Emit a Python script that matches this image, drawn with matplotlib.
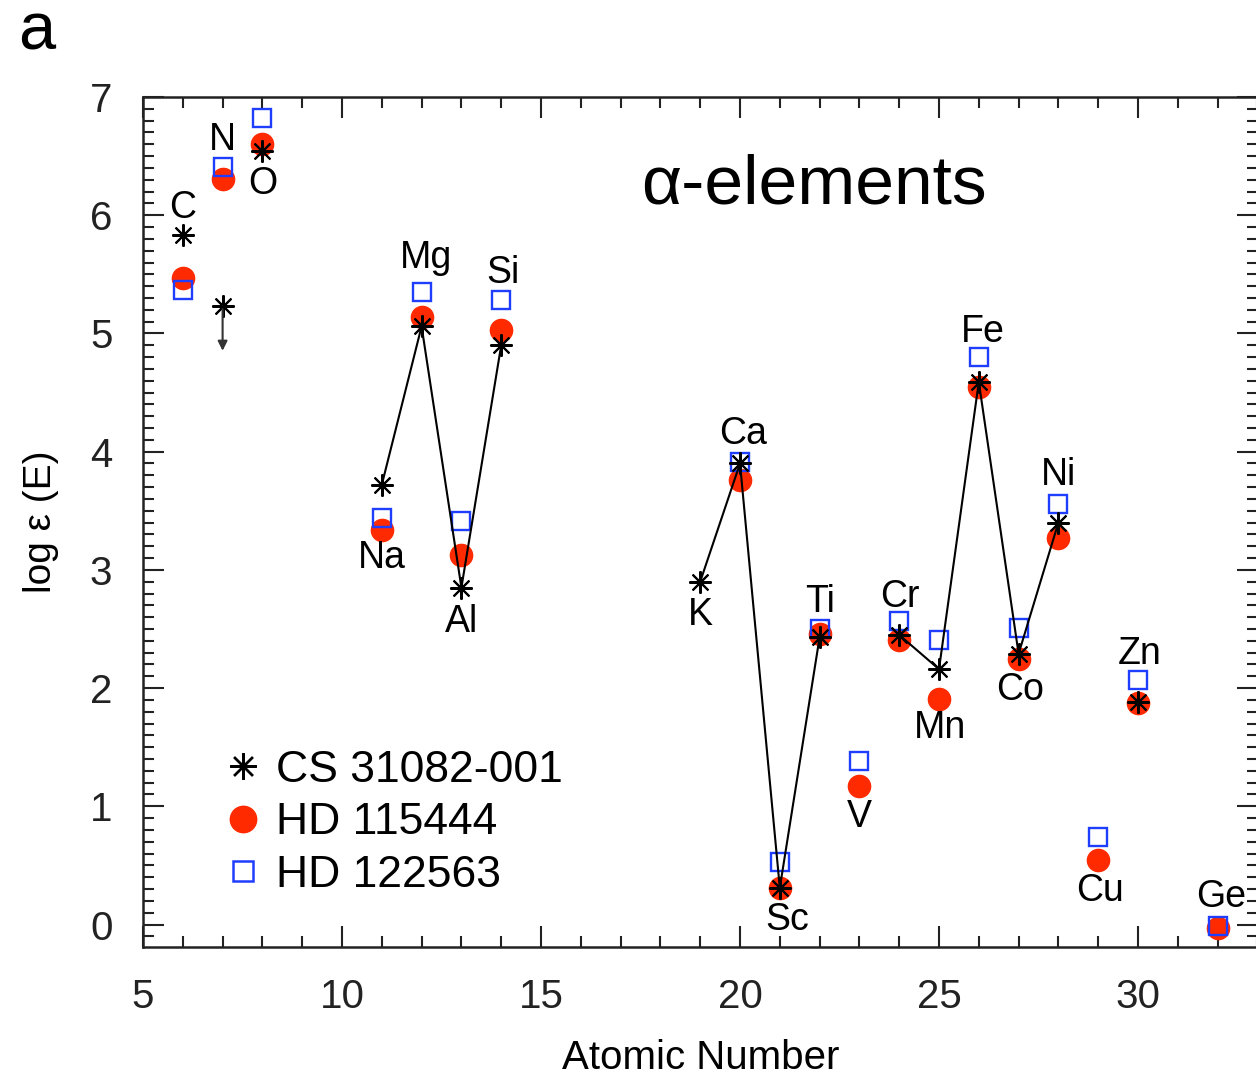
import matplotlib
matplotlib.use('Agg')
import matplotlib.pyplot as plt
from matplotlib.ticker import MultipleLocator
from matplotlib.lines import Line2D

plt.rcParams['font.family'] = ['Liberation Sans', 'DejaVu Sans']

# Atomic numbers and abundances (log eps)
# CS 31082-001 (asterisks); connected groups
cs_groups = [
    ([11, 12, 13, 14], [3.72, 5.06, 2.85, 4.90]),
    ([19, 20, 21, 22], [2.90, 3.90, 0.31, 2.43]),
    ([24, 25, 26, 27, 28], [2.45, 2.16, 4.59, 2.29, 3.40]),
]
cs_single_z = [6, 8, 30]
cs_single_v = [5.83, 6.54, 1.88]
cs_limit_z = 7          # upper limit for N
cs_limit_v = 5.23

hd115444_z = [6, 7, 8, 11, 12, 13, 14, 20, 21, 22, 23, 24, 25, 26, 27, 28, 29, 30, 32]
hd115444_v = [5.47, 6.31, 6.60, 3.34, 5.14, 3.13, 5.03, 3.76, 0.31, 2.46, 1.17,
              2.41, 1.91, 4.55, 2.25, 3.27, 0.55, 1.87, -0.03]

hd122563_z = [6, 7, 8, 11, 12, 13, 14, 20, 21, 22, 23, 24, 25, 26, 27, 28, 29, 30, 32]
hd122563_v = [5.37, 6.41, 6.82, 3.44, 5.35, 3.41, 5.28, 3.91, 0.53, 2.50, 1.38,
              2.57, 2.41, 4.80, 2.51, 3.56, 0.74, 2.07, -0.01]

# element labels: symbol, Z
elements = ['C', 'N', 'O', 'Na', 'Mg', 'Al', 'Si', 'K', 'Ca', 'Sc', 'Ti', 'V',
            'Cr', 'Mn', 'Fe', 'Co', 'Ni', 'Cu', 'Zn', 'Ge']
element_z = [6, 7, 8, 11, 12, 13, 14, 19, 20, 21, 22, 23, 24, 25, 26, 27, 28, 29, 30, 32]
# label placement (x shift, y) in data units
label_pos = {
    'C': (0.0, 6.06), 'N': (0.0, 6.64), 'O': (0.0, 6.26), 'Na': (0.0, 3.10),
    'Mg': (0.1, 5.64), 'Al': (0.0, 2.56), 'Si': (0.05, 5.51), 'K': (0.0, 2.62),
    'Ca': (0.08, 4.15), 'Sc': (0.18, 0.04), 'Ti': (0.0, 2.73), 'V': (0.0, 0.91),
    'Cr': (0.02, 2.77), 'Mn': (0.02, 1.66), 'Fe': (0.1, 5.01), 'Co': (0.04, 1.98),
    'Ni': (0.0, 3.80), 'Cu': (0.05, 0.28), 'Zn': (0.05, 2.29), 'Ge': (0.1, 0.23),
}

red = '#ff2a00'
blue = '#1f3dff'

fig = plt.figure(figsize=(12.56, 10.78), dpi=100)
ax = fig.add_axes([143 / 1256, 131 / 1078, 1115 / 1256, 850 / 1078])

ax.plot(hd115444_z, hd115444_v, 'o', ms=16, color=red, mec=red, ls='none', zorder=3)
ax.plot(hd122563_z, hd122563_v, 's', ms=12.5, mfc='none', mec=blue, mew=1.7, ls='none', zorder=4)

star = (8, 2, 0)
for zz, vv in cs_groups:
    ax.plot(zz, vv, '-', color='black', lw=1.5, marker=star, ms=16, mew=1.5, zorder=5)
ax.plot(cs_single_z, cs_single_v, ls='none', marker=star, ms=16, mew=1.5, color='black', zorder=5)
ax.plot([cs_limit_z], [cs_limit_v], ls='none', marker=star, ms=16, mew=1.5, color='black', zorder=5)
ax.annotate('', xy=(cs_limit_z, cs_limit_v - 0.40), xytext=(cs_limit_z, cs_limit_v),
            arrowprops=dict(arrowstyle='-|>', color='#333333', lw=1.5, mutation_scale=14),
            zorder=5)

for el, z in zip(elements, element_z):
    dx, y = label_pos[el]
    ax.text(z + dx, y, el, fontsize=27, ha='center', va='center', zorder=6)

ax.text(21.86, 6.1, 'α-elements', fontsize=50, ha='center', va='baseline')

ax.set_xlim(5, 5 + 1115 / 39.8)
ax.set_ylim(-0.19, 7.0)
ax.xaxis.set_major_locator(MultipleLocator(5))
ax.xaxis.set_minor_locator(MultipleLocator(1))
ax.yaxis.set_major_locator(MultipleLocator(1))
ax.yaxis.set_minor_locator(MultipleLocator(0.1))
ax.tick_params(which='both', direction='in', top=True, right=True, width=1.5,
               labelsize=29, colors='#222222')
ax.tick_params(which='major', length=15, pad=22)
ax.tick_params(which='minor', length=8)
for s in ax.spines.values():
    s.set_linewidth(1.8)
    s.set_color('#222222')

ax.set_xlabel('Atomic Number', fontsize=29)
ax.set_ylabel('log ε (E)', fontsize=28)
ax.xaxis.set_label_coords(0.5, -0.108)
ax.yaxis.set_label_coords(-0.075, 0.5)

handles = [
    Line2D([], [], ls='none', marker=star, ms=19, mew=1.7, color='black'),
    Line2D([], [], ls='none', marker='o', ms=19, color=red),
    Line2D([], [], ls='none', marker='s', ms=15, mfc='none', mec=blue, mew=1.8),
]
ax.legend(handles, ['CS 31082-001', 'HD 115444', 'HD 122563'], loc='upper left',
          bbox_to_anchor=(0.07, 0.232), frameon=False, fontsize=32, borderpad=0,
          borderaxespad=0, handlelength=1.0, handletextpad=0.23, labelspacing=0.26)

fig.text(18 / 1256, 1 - 50 / 1078, 'a', fontsize=48, ha='left', va='baseline')

fig.savefig('out.png', dpi=100)
